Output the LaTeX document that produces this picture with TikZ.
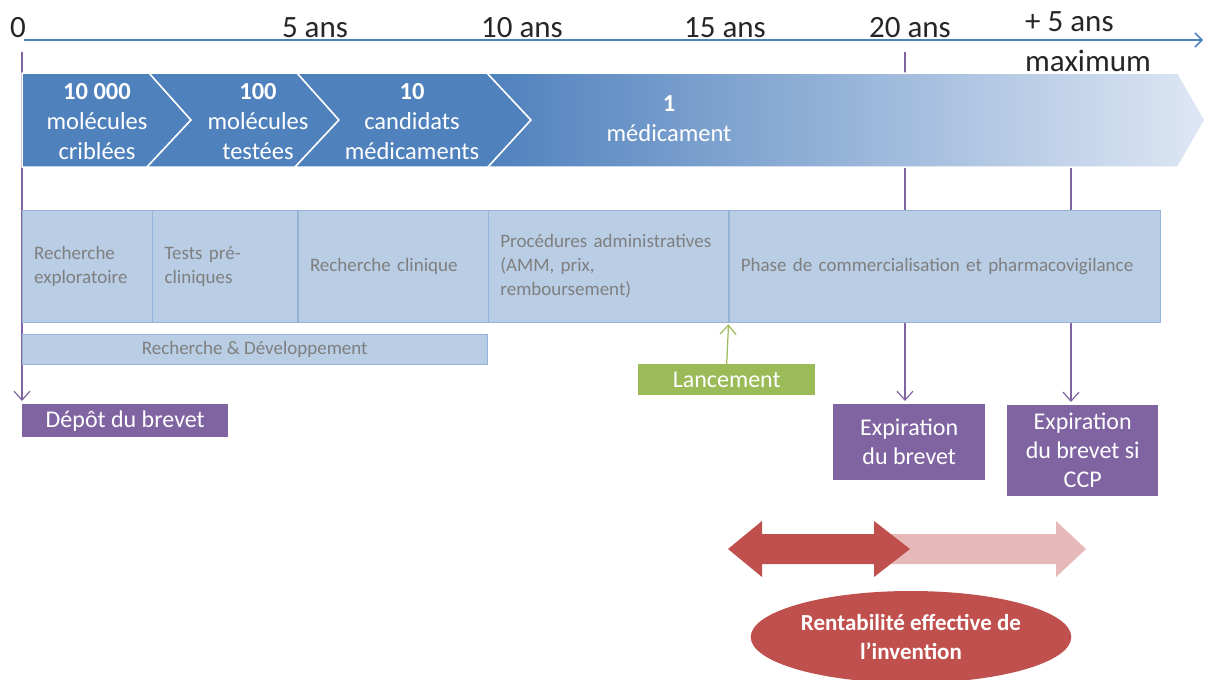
\documentclass[tikz,border=0pt]{standalone}
\usepackage{fontspec}
\setmainfont{Carlito}
\usepackage{xcolor}
\usepackage{tikz}
\usetikzlibrary{shapes.geometric, arrows.meta, positioning}

\definecolor{bandblue}{HTML}{4F81BD}
\definecolor{bandmid}{HTML}{C3D3EA}
\definecolor{bandpale}{HTML}{DEE7F4}
\definecolor{cellfill}{HTML}{B9CDE5}
\definecolor{cellline}{HTML}{95B3D7}
\definecolor{celltext}{HTML}{7F7F7F}
\definecolor{tagpurple}{HTML}{8064A2}
\definecolor{taggreen}{HTML}{9BBB59}
\definecolor{gainred}{HTML}{C0504D}
\definecolor{gainpink}{HTML}{E6B9B8}

\begin{document}
\begin{tikzpicture}
	[
		x=1pt, y=-1pt,
		yearlbl/.style={font=\fontsize{31}{40}\selectfont, text=black!85, inner sep=0pt},
		band/.style={fill=bandblue, draw=white, line width=1.5pt},
		bandtxt/.style={text=white, align=center, font=\fontsize{24.5}{30}\selectfont},
		cell/.style={draw=cellline, fill=cellfill, text=celltext, anchor=north west, align=left,
			minimum height=112pt, inner xsep=12pt, font=\fontsize{19}{24}\selectfont},
		tag/.style={fill=#1, text=white, anchor=north west, align=center, inner sep=0pt,
			font=\fontsize{24}{29}\selectfont},
		patent/.style={draw=tagpurple, line width=1.2pt, shorten >=3pt,
			-{Straight Barb[length=9pt, width=16pt]}}
	]
	\useasboundingbox (0,0) rectangle (1205,680);

	% time axis
	\coordinate (axstart) at (24,40);
	\coordinate (axend) at (1203,40);
	\draw[bandblue, line width=1.5pt, -{Straight Barb[length=7pt, width=14pt]}] (axstart) -- (axend);
	\node[yearlbl] (y0) at (18,28) {0};
	\node[yearlbl] (y5) at (315,28) {5 ans};
	\node[yearlbl] (y10) at (522,28) {10 ans};
	\node[yearlbl] (y15) at (725,28) {15 ans};
	\node[yearlbl] (y20) at (910,28) {20 ans};
	\node[yearlbl, anchor=west, align=left] (y25) at (1025,42) {+ 5 ans\\maximum};

	% brevet, lancement
	\node[tag=tagpurple, minimum width=206pt, minimum height=33pt] (depot) at (22,404) {Dépôt du brevet};
	\node[tag=taggreen, minimum width=177pt, minimum height=31pt] (lanc) at (638,364) {Lancement};
	\node[tag=tagpurple, minimum width=152pt, minimum height=76pt] (expi) at (833,404) {Expiration\\du brevet};
	\node[tag=tagpurple, minimum width=151pt, minimum height=91pt] (ccp) at (1007,405) {Expiration\\du brevet si\\CCP};

	\coordinate (t0) at (22,52);
	\coordinate (t20) at (905,52);
	\coordinate (t25) at (1071,160);
	\draw[patent] (t0) -- (depot.north west);
	\draw[patent] (t20) -- (t20 |- expi.north);
	\draw[patent] (t25) -- (t25 |- ccp.north);

	% molecules band
	\path[band] (22,73) -- (149,73) -- (191,120) -- (147,167) -- (22,167) -- cycle;
	\path[band] (149,73) -- (297,73) -- (339,120) -- (295,167) -- (147,167) -- (191,120) -- cycle;
	\path[band] (297,73) -- (487,73) -- (531,120) -- (488,167) -- (295,167) -- (339,120) -- cycle;
	\shadedraw[draw=white, line width=1.5pt, left color=bandblue, middle color=bandmid, right color=bandpale]
		(487,73) -- (1178,73) -- (1205,120) -- (1178,167) -- (488,167) -- (531,120) -- cycle;
	\node[bandtxt] (crib) at (97,122) {\textbf{10 000}\\molécules\\criblées};
	\node[bandtxt] (test) at (258,122) {\textbf{100}\\molécules\\testées};
	\node[bandtxt] (cand) at (412,122) {\textbf{10}\\candidats\\médicaments};
	\node[bandtxt] (medic) at (669,119) {\textbf{1}\\médicament};

	% phases
	\node[cell, text width=106pt] (explo) at (22,210) {Recherche\\exploratoire};
	\node[cell, text width=121pt, right=0pt of explo] (precli) {Tests pré-\\cliniques};
	\node[cell, text width=166pt, right=0pt of precli] (clin) {Recherche clinique};
	\node[cell, text width=216pt, right=0pt of clin] (admin) {Procédures administratives\\(AMM, prix,\\remboursement)};
	\node[cell, text width=407pt, right=0pt of admin] (phase) {Phase de commercialisation et pharmacovigilance};
	\node[cell, minimum width=465pt, minimum height=30pt, align=center] (rd) at (22,334) {Recherche \& Développement};

	\draw[taggreen, line width=1.2pt, shorten >=2pt, -{Straight Barb[length=9pt, width=16pt]}] (lanc.north) -- (phase.south west);

	% rentabilite
	\fill[gainpink] (870,534) -- (1056,534) -- (1056,521) -- (1086,549) -- (1056,577) -- (1056,564) -- (870,564) -- cycle;
	\fill[gainred] (728,549) -- (762,521) -- (762,534) -- (874,534) -- (874,521) -- (910,549)
		-- (874,577) -- (874,564) -- (762,564) -- (762,577) -- cycle;
	\node[ellipse, fill=gainred, minimum width=320pt, minimum height=92pt, text=white, align=center,
		font=\bfseries\fontsize{23}{29}\selectfont] (rent) at (911,637) {Rentabilité effective de\\l’invention};
\end{tikzpicture}
\end{document}
